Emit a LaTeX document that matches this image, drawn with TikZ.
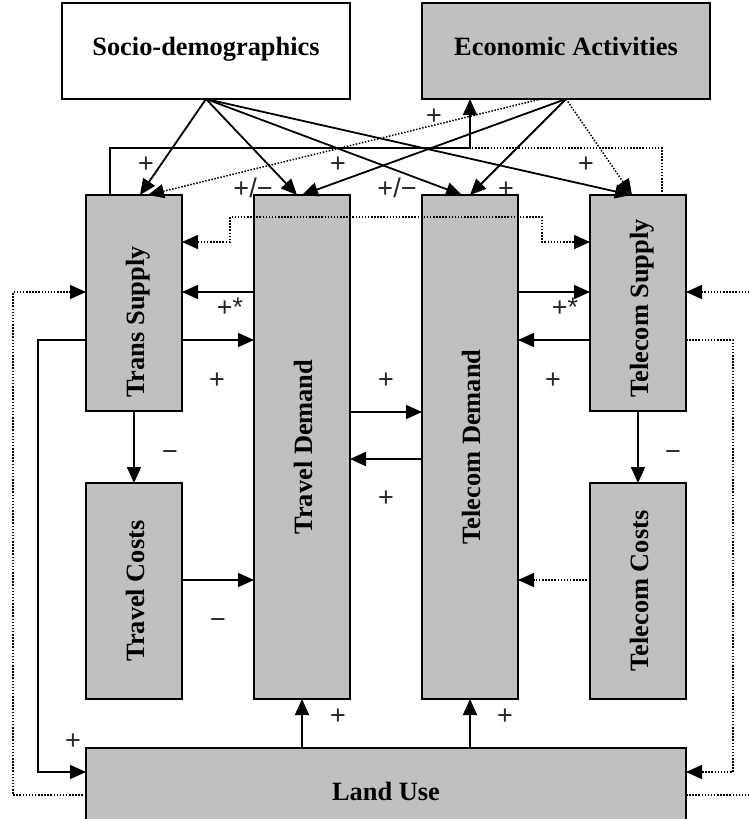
\documentclass[tikz,border=0pt]{standalone}
\usepackage{fontspec}
\setmainfont{Liberation Serif}
\newfontfamily\signfont{Liberation Sans}
\usepackage{graphicx}
\usepackage{tikz}
\usetikzlibrary{arrows.meta}
\usetikzlibrary{positioning}
\definecolor{boxgray}{RGB}{192,192,192}
\newcommand{\vlabel}[2][0pt]{\rotatebox{90}{\rule[-7pt]{0pt}{34pt}#2\hspace*{#1}}}
\tikzset{
    >={Triangle[length=16pt,width=14pt]},
    block/.style={
           rectangle,
           fill=boxgray,
           draw=black, line width=2pt,
           minimum width=96pt,
           inner sep=0pt, outer sep=0pt,
           font=\fontsize{26.4}{30}\selectfont\bfseries,
           },
    headblock/.style={
           block,
           minimum width=288pt,
           minimum height=96pt,
           text height=18pt, text depth=10pt,
           },
    frameless/.style={
           %draw=black,
           inner sep=0pt,
           text height=18pt, text depth=0pt,
           text=black!85,
           font=\signfont\fontsize{27}{27}\selectfont,
           },
    flow/.style={->, line width=1.8pt},
    feed/.style={line width=1.5pt, dash pattern=on 1.5pt off 1.6pt},
}

\begin{document}
\begin{tikzpicture}[x=1pt, y=-1pt, node distance=72pt]
	\useasboundingbox (0,0) rectangle (749,819);
	\clip (0,0) rectangle (749,819);

	\node[headblock, fill=white] (socio) at (206,51) {Socio-demographics};
	\node[headblock] (econ) at (566,51) {Economic Activities};

	\node[block, minimum height=216pt] (tsup) at (134,303) {\vlabel[38pt]{Trans Supply}};
	\node[block, minimum height=504pt] (tdem) at (302,447) {\vlabel{Travel Demand}};
	\node[block, minimum height=504pt, right=of tdem] (cdem) {\vlabel{Telecom Demand}};
	\node[block, minimum height=216pt] (csup) at (638,303) {\vlabel[11pt]{Telecom Supply}};

	\node[block, minimum height=216pt, below=of tsup] (tcost) {\vlabel{Travel Costs}};
	\node[block, minimum height=216pt, below=of csup] (ccost) {\vlabel{Telecom Costs}};

	\node[headblock, minimum width=600pt] (land) at (386,796) {Land Use};

	% rows and columns of the bent connectors
	\coordinate (rowtop) at (0,148);
	\coordinate (rowstep) at (0,217);
	\coordinate (rowa) at (0,242);
	\coordinate (rowb) at (0,292);
	\coordinate (rowc) at (0,340);
	\coordinate (rowd) at (0,412);
	\coordinate (rowe) at (0,459);
	\coordinate (rowf) at (0,580);
	\coordinate (rowg) at (0,772);
	\coordinate (rowh) at (0,795);
	\coordinate (colll) at (13,0);
	\coordinate (coll) at (38,0);
	\coordinate (colm) at (230,0);
	\coordinate (coln) at (542,0);
	\coordinate (colr) at (733,0);
	\coordinate (colrr) at (756,0);

	% socio-demographics and economic activities
	\path[flow]	(socio.south) edge ([xshift=6pt]tsup.north)
				(socio.south) edge ([xshift=-5pt]tdem.north)
				(socio.south) edge ([xshift=-8pt]cdem.north)
				(socio.south) edge ([xshift=-7pt]csup.north);
	\path[flow]	(econ.south) edge (tdem.north)
				(econ.south) edge (cdem.north);
	\path[flow, feed]	([xshift=-25pt]econ.south) edge ([xshift=14pt]tsup.north)
				(econ.south) edge ([xshift=-6pt]csup.north);

	\coordinate (fbk) at (cdem.north |- rowtop);
	\draw[flow] ([xshift=-24pt]tsup.north) |- (fbk) -- (fbk |- econ.south);
	\draw[feed] ([xshift=24pt]csup.north) |- (fbk);

	% supply and demand
	\draw[flow, feed, <->] (tsup.east |- rowa) -| (colm |- rowstep) -| (coln |- rowa) -- (csup.west |- rowa);
	\draw[flow] (tdem.west |- rowb) -- (tsup.east |- rowb);
	\draw[flow] (tsup.east |- rowc) -- (tdem.west |- rowc);
	\draw[flow] (cdem.east |- rowb) -- (csup.west |- rowb);
	\draw[flow] (csup.west |- rowc) -- (cdem.east |- rowc);
	\draw[flow] (tdem.east |- rowd) -- (cdem.west |- rowd);
	\draw[flow] (cdem.west |- rowe) -- (tdem.east |- rowe);

	% costs
	\path[flow]	(tsup) edge (tcost)
				(csup) edge (ccost);
	\draw[flow] (tcost.east |- rowf) -- (tdem.west |- rowf);
	\draw[flow, feed] (ccost.west |- rowf) -- (cdem.east |- rowf);

	% land use
	\draw[flow] (land.north -| tdem.south) -- (tdem.south);
	\draw[flow] (land.north -| cdem.south) -- (cdem.south);
	\draw[flow] (tsup.west |- rowc) -| (coll |- rowg) -- (land.west |- rowg);
	\draw[flow, feed] (land.west |- rowh) -| (colll |- rowb) -- (tsup.west |- rowb);
	\draw[flow, feed] (csup.east |- rowc) -| (colr |- rowg) -- (land.east |- rowg);
	\draw[flow, feed] (land.east |- rowh) -| (colrr |- rowb) -- (csup.east |- rowb);

	% signs
	\node[frameless] (s1) at (146,163) {+};
	\node[frameless] (s2) at (253,188) {+/−};
	\node[frameless] (s3) at (338,163) {+};
	\node[frameless] (s4) at (397,188) {+/−};
	\node[frameless] (s5) at (506,188) {+};
	\node[frameless] (s6) at (586,163) {+};
	\node[frameless] (s7) at (434,115) {+};
	\node[frameless] (s8) at (230,307) {+*};
	\node[frameless] (s9) at (565,307) {+*};
	\node[frameless] (s10) at (217,379) {+};
	\node[frameless] (s11) at (386,379) {+};
	\node[frameless] (s12) at (553,379) {+};
	\node[frameless] (s13) at (386,497) {+};
	\node[frameless] (s14) at (170,451) {−};
	\node[frameless] (s15) at (673,451) {−};
	\node[frameless] (s16) at (218,619) {−};
	\node[frameless] (s17) at (338,715) {+};
	\node[frameless] (s18) at (505,715) {+};
	\node[frameless] (s19) at (73,740) {+};

\end{tikzpicture}
\end{document}
